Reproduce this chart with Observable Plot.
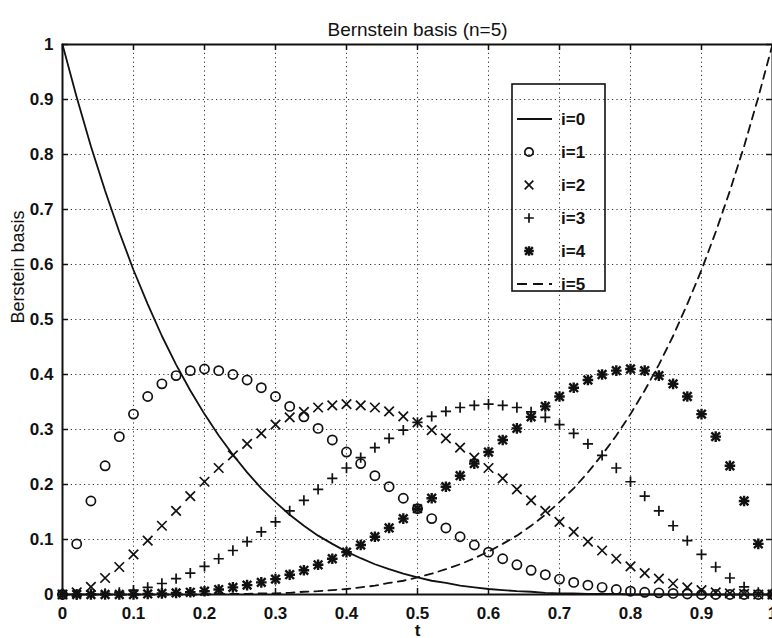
<!DOCTYPE html>
<html><head><meta charset="utf-8">
<script src="https://cdn.jsdelivr.net/npm/d3@7"></script>
<script src="https://cdn.jsdelivr.net/npm/@observablehq/plot@0.6"></script>
<style>
body{margin:0;background:#fff;overflow:hidden;}
#wrap{position:relative;width:772px;height:638px;overflow:hidden;font-family:"Liberation Sans",Arial,Helvetica,sans-serif;}
</style></head><body><div id="wrap"></div>
<script>
const titleText = "Bernstein basis (n=5)";
const xLabel = "t";
const yLabel = "Berstein basis";
const seriesNames = ["i=0","i=1","i=2","i=3","i=4","i=5"];
const t = [0,0.02,0.04,0.06,0.08,0.1,0.12,0.14,0.16,0.18,0.2,0.22,0.24,0.26,0.28,0.3,0.32,0.34,0.36,0.38,0.4,0.42,0.44,0.46,0.48,0.5,0.52,0.54,0.56,0.58,0.6,0.62,0.64,0.66,0.68,0.7,0.72,0.74,0.76,0.78,0.8,0.82,0.84,0.86,0.88,0.9,0.92,0.94,0.96,0.98,1];
const b0 = [1,.904,.815,.734,.659,.590,.528,.470,.418,.371,.328,.289,.254,.222,.193,.168,.145,.125,.107,.092,.078,.066,.055,.046,.038,.031,.025,.021,.016,.013,.010,.008,.006,.005,.003,.002,.002,.001,.001,.001,0,0,0,0,0,0,0,0,0,0,0];
const b1 = [0,.092,.170,.234,.287,.328,.360,.383,.398,.407,.410,.407,.400,.390,.376,.360,.342,.323,.302,.281,.259,.238,.216,.196,.175,.156,.138,.121,.105,.090,.077,.065,.054,.044,.036,.028,.022,.017,.013,.009,.006,.004,.003,.002,.001,0,0,0,0,0,0];
const b2 = [0,.004,.014,.030,.050,.073,.098,.125,.152,.179,.205,.230,.253,.274,.293,.309,.322,.332,.340,.344,.346,.344,.340,.333,.324,.313,.299,.284,.267,.249,.230,.211,.191,.171,.152,.132,.114,.096,.080,.065,.051,.039,.029,.020,.013,.008,.004,.002,.001,0,0];
const b3 = [0,0,.001,.002,.004,.008,.013,.020,.029,.039,.051,.065,.080,.096,.114,.132,.152,.171,.191,.211,.230,.249,.267,.284,.299,.313,.324,.333,.340,.344,.346,.344,.340,.332,.322,.309,.293,.274,.253,.230,.205,.179,.152,.125,.098,.073,.050,.030,.014,.004,0];
const b4 = [0,0,0,0,0,0,.001,.002,.003,.004,.006,.009,.013,.017,.022,.028,.036,.044,.054,.065,.077,.090,.105,.121,.138,.156,.175,.196,.216,.238,.259,.281,.302,.323,.342,.360,.376,.390,.400,.407,.410,.407,.398,.383,.360,.328,.287,.234,.170,.092,0];
const b5 = [0,0,0,0,0,0,0,0,0,0,0,.001,.001,.001,.002,.002,.003,.005,.006,.008,.010,.013,.016,.021,.025,.031,.038,.046,.055,.066,.078,.092,.107,.125,.145,.168,.193,.222,.254,.289,.328,.371,.418,.470,.528,.590,.659,.734,.815,.904,1];
const xTicks = [0,0.1,0.2,0.3,0.4,0.5,0.6,0.7,0.8,0.9,1];
const xTickLabels = ["0","0.1","0.2","0.3","0.4","0.5","0.6","0.7","0.8","0.9","1"];
const yTicks = [0,0.1,0.2,0.3,0.4,0.5,0.6,0.7,0.8,0.9,1];
const yTickLabels = ["0","0.1","0.2","0.3","0.4","0.5","0.6","0.7","0.8","0.9","1"];

const seriesValues = [b0,b1,b2,b3,b4,b5];
const rows = seriesValues.map((vals, i) => vals.map((v, k) => ({t: t[k], v, s: seriesNames[i]})));

const W = 772, H = 638;
const mL = 62, mR = 0, mT = 44, mB = 44;
const fw = W - mL - mR, fh = H - mT - mB;
const tick = 6;
const ink = "#111";
const gridStyle = {stroke: "#333", strokeOpacity: 1, strokeWidth: 1, strokeDasharray: "1.2,3.2"};
const xfmt = d => xTickLabels[xTicks.indexOf(d)];
const yfmt = d => yTickLabels[yTicks.indexOf(d)];
const markStroke = 1.7;

const chart = Plot.plot({
  width: W, height: H,
  marginLeft: mL, marginRight: mR, marginTop: mT, marginBottom: mB,
  style: {fontFamily: '"Liberation Sans", Arial, sans-serif', background: "transparent", overflow: "visible"},
  x: {domain: [0, 1], axis: null},
  y: {domain: [0, 1], axis: null},
  marks: [
    Plot.gridX(xTicks, gridStyle),
    Plot.gridY(yTicks, gridStyle),
    Plot.tickX(xTicks, {x: d => d, insetTop: fh - tick, stroke: ink, strokeWidth: 1.5}),
    Plot.tickX(xTicks, {x: d => d, insetBottom: fh - tick, stroke: ink, strokeWidth: 1.5}),
    Plot.tickY(yTicks, {y: d => d, insetRight: fw - tick, stroke: ink, strokeWidth: 1.5}),
    Plot.tickY(yTicks, {y: d => d, insetLeft: fw - tick, stroke: ink, strokeWidth: 1.5}),
    Plot.axisX(xTicks, {tickSize: 0, tickPadding: 12, tickFormat: xfmt, fontSize: 17, fontWeight: "bold", fill: ink, label: null}),
    Plot.axisY(yTicks, {tickSize: 0, tickPadding: 9, tickFormat: yfmt, fontSize: 17, fontWeight: "bold", fill: ink, label: null}),
    Plot.frame({stroke: ink, strokeWidth: 2}),
    Plot.line(rows[0], {x: "t", y: "v", stroke: ink, strokeWidth: 1.8}),
    Plot.dot(rows[1], {x: "t", y: "v", symbol: "circle", r: 4.6, stroke: ink, fill: "none", strokeWidth: markStroke}),
    Plot.dot(rows[2], {x: "t", y: "v", symbol: "times", r: 4.4, stroke: ink, strokeWidth: markStroke}),
    Plot.dot(rows[3], {x: "t", y: "v", symbol: "plus", r: 3.4, stroke: ink, strokeWidth: markStroke}),
    Plot.dot(rows[4], {x: "t", y: "v", symbol: "plus", r: 3.5, stroke: ink, strokeWidth: 2.4}),
    Plot.dot(rows[4], {x: "t", y: "v", symbol: "times", r: 4.0, stroke: ink, strokeWidth: 2.4}),
    Plot.line(rows[5], {x: "t", y: "v", stroke: ink, strokeWidth: 1.8, strokeDasharray: "8,6"}),
    Plot.text([titleText], {frameAnchor: "top", dy: -22.5, fontSize: 19, fill: ink}),
    Plot.text([xLabel], {frameAnchor: "bottom", dy: 41, fontSize: 17, fontWeight: "bold", fill: ink}),
    Plot.text([yLabel], {frameAnchor: "left", dx: -44, dy: 4, rotate: -90, fontSize: 18, fill: ink})
  ]
});
const wrap = document.getElementById("wrap");
wrap.appendChild(chart);

// legend
const lgW = 93, lgH = 207, step = 33, y0 = 36, symX = 18, txtX = 50;
const legend = d3.create("svg")
  .attr("width", lgW + 2).attr("height", lgH + 2)
  .style("position", "absolute").style("left", "511px").style("top", "83px").style("overflow", "visible");
legend.append("rect").attr("x", 1).attr("y", 1).attr("width", lgW).attr("height", lgH)
  .attr("fill", "none").attr("stroke", ink).attr("stroke-width", 1.6);
const sym = (type, r) => d3.symbol(type, Math.PI * r * r)();
seriesNames.forEach((name, i) => {
  const y = y0 + i * step;
  const g = legend.append("g").attr("transform", `translate(0,${y})`);
  if (i === 0) g.append("line").attr("x1", 6).attr("x2", 41).attr("stroke", ink).attr("stroke-width", 1.8);
  if (i === 5) g.append("line").attr("x1", 6).attr("x2", 41).attr("stroke", ink).attr("stroke-width", 1.8).attr("stroke-dasharray", "10,6");
  const addSym = (type, r, sw) => g.append("path").attr("transform", `translate(${symX},0)`).attr("d", sym(type, r))
      .attr("fill", "none").attr("stroke", ink).attr("stroke-width", sw);
  if (i === 1) addSym(d3.symbolCircle, 4.2, markStroke);
  if (i === 2) addSym(d3.symbolTimes, 4, markStroke);
  if (i === 3) addSym(d3.symbolPlus, 3.2, markStroke);
  if (i === 4) { addSym(d3.symbolPlus, 3.2, 2.4); addSym(d3.symbolTimes, 3.6, 2.4); }
  g.append("text").attr("x", txtX).attr("y", 0).attr("dy", "0.35em")
    .attr("font-family", '"Liberation Sans", Arial, sans-serif').attr("font-size", 17).attr("font-weight", "bold")
    .attr("fill", ink).text(name);
});
wrap.appendChild(legend.node());
</script>
</body></html>
